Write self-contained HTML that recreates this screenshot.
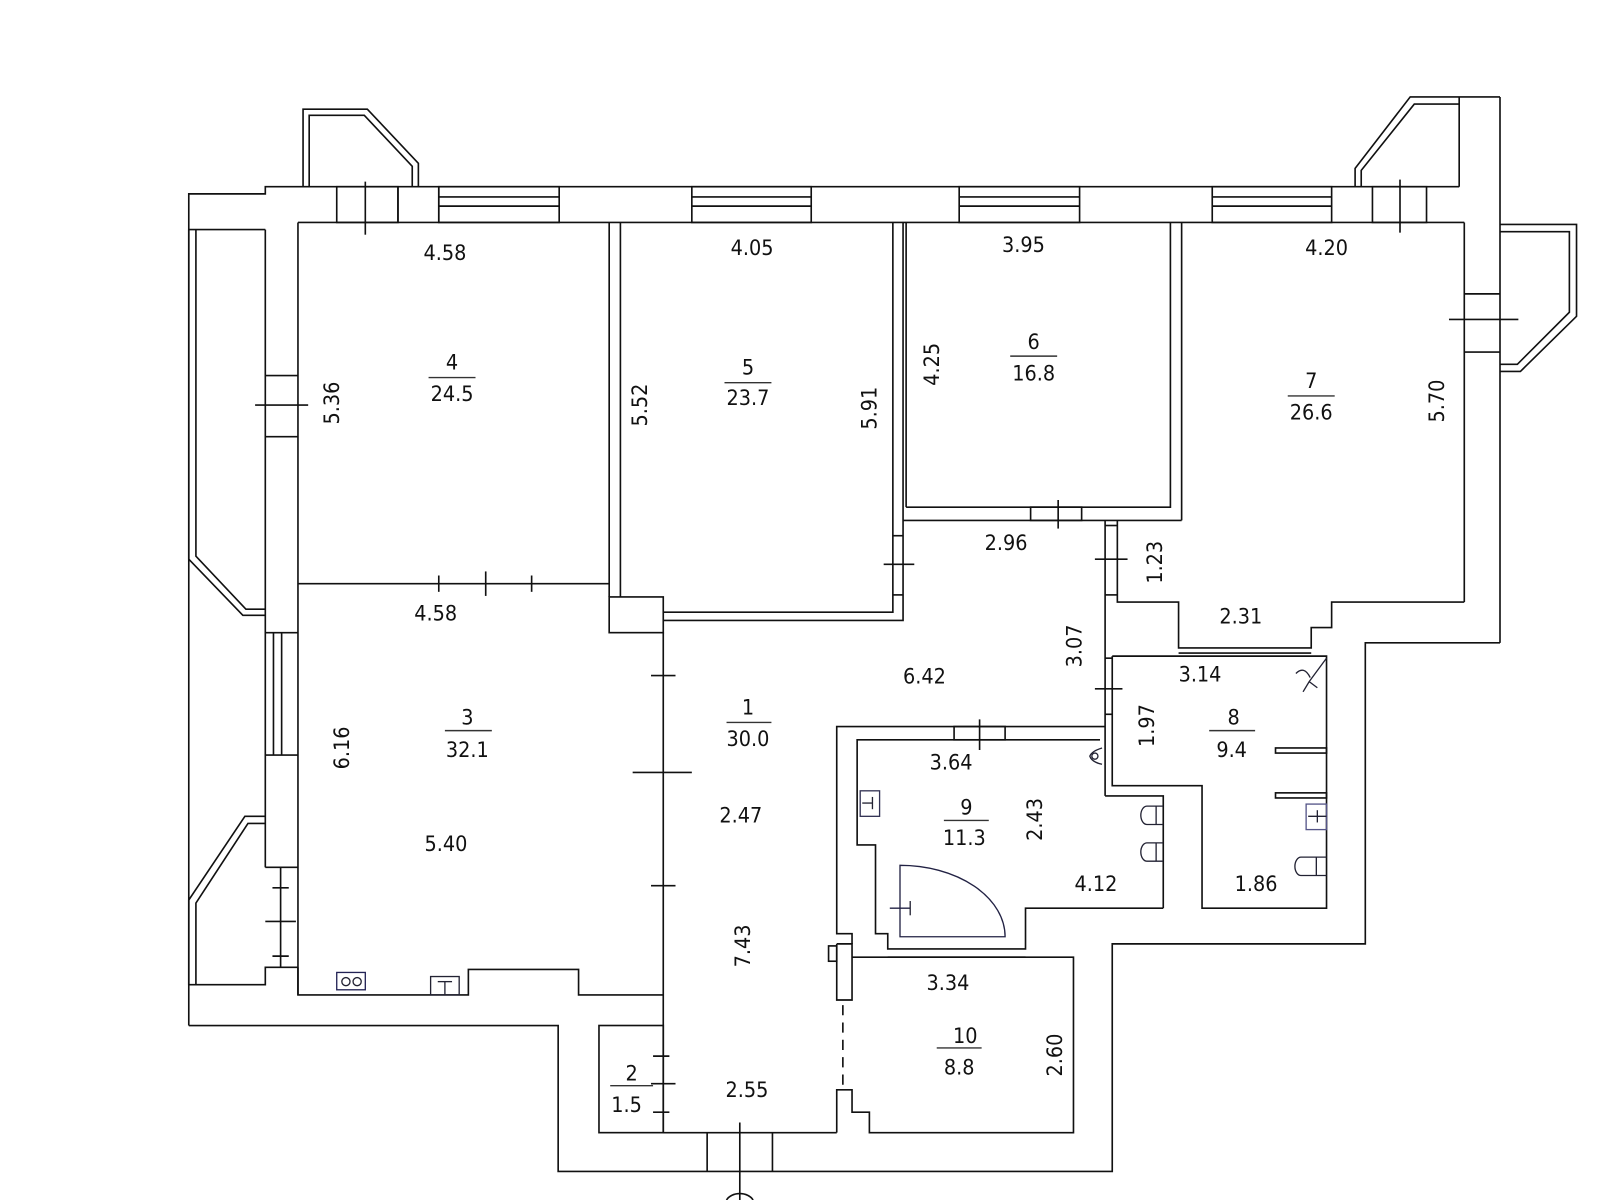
<!DOCTYPE html>
<html><head><meta charset="utf-8"><style>
html,body{margin:0;padding:0;background:#fff;}
svg{display:block}
text{font-family:"DejaVu Sans Condensed","Liberation Sans",sans-serif;font-size:21px;fill:#111;text-anchor:middle}
</style></head><body>
<svg width="1600" height="1200" viewBox="0 0 1568 1176" xmlns="http://www.w3.org/2000/svg">
<g fill="none" stroke="#111" stroke-width="1.6">
<polyline points="185,1005 185,190 260,190 260,183 1430,183"/>
<line x1="292" y1="218" x2="1435" y2="218"/>
<line x1="185" y1="225" x2="260" y2="225"/>
<polyline points="297,183 297,107 360,107 410,160 410,183"/>
<polyline points="303,183 303,113 357,113 404,163 404,183"/>
<rect x="330" y="183" width="60" height="35"/>
<line x1="358" y1="178" x2="358" y2="230"/>
<line x1="390" y1="183" x2="390" y2="218"/><line x1="430" y1="183" x2="430" y2="218"/>
<rect x="430" y="183" width="118" height="35"/><line x1="430" y1="193" x2="548" y2="193"/><line x1="430" y1="202" x2="548" y2="202"/>
<rect x="678" y="183" width="117" height="35"/><line x1="678" y1="193" x2="795" y2="193"/><line x1="678" y1="202" x2="795" y2="202"/>
<rect x="940" y="183" width="118" height="35"/><line x1="940" y1="193" x2="1058" y2="193"/><line x1="940" y1="202" x2="1058" y2="202"/>
<rect x="1188" y="183" width="117" height="35"/><line x1="1188" y1="193" x2="1305" y2="193"/><line x1="1188" y1="202" x2="1305" y2="202"/>
<rect x="1345" y="183" width="53" height="35"/><line x1="1372" y1="176" x2="1372" y2="228"/>
<polyline points="1328,183 1328,165 1382,95 1470,95"/>
<polyline points="1334,183 1334,167 1386,102 1430,102"/>
<line x1="1430" y1="95" x2="1430" y2="183"/>
<line x1="1470" y1="95" x2="1470" y2="630"/>
<line x1="1435" y1="218" x2="1435" y2="590"/>
<polyline points="1470,220 1545,220 1545,310 1490,364 1470,364"/>
<polyline points="1470,227 1538,227 1538,306 1487,357 1470,357"/>
<line x1="1435" y1="288" x2="1470" y2="288"/><line x1="1435" y1="345" x2="1470" y2="345"/>
<line x1="1420" y1="313" x2="1488" y2="313"/>
<polyline points="185,225 185,548 238,603 260,603"/>
<polyline points="192,225 192,545 241,597 260,597"/>
<line x1="260" y1="225" x2="260" y2="850"/>
<line x1="292" y1="218" x2="292" y2="975"/>
<line x1="260" y1="368" x2="292" y2="368"/><line x1="260" y1="428" x2="292" y2="428"/>
<line x1="250" y1="397" x2="302" y2="397"/>
<line x1="260" y1="620" x2="292" y2="620"/><line x1="260" y1="740" x2="292" y2="740"/>
<line x1="268" y1="620" x2="268" y2="740"/><line x1="276" y1="620" x2="276" y2="740"/>
<line x1="260" y1="850" x2="292" y2="850"/>
<line x1="275" y1="850" x2="275" y2="948"/>
<line x1="267" y1="870" x2="283" y2="870"/><line x1="260" y1="903" x2="290" y2="903"/><line x1="267" y1="937" x2="283" y2="937"/>
<polyline points="185,965 185,882 240,800 260,800"/>
<polyline points="192,965 192,885 243,807 260,807"/>
<polyline points="185,965 260,965 260,948 292,948"/>
<polyline points="292,948 292,975 459,975 459,950 567,950 567,975 650,975"/>
<polyline points="185,1005 547,1005 547,1148 1090,1148 1090,925 1338,925 1338,630 1470,630"/>
<line x1="292" y1="572" x2="597" y2="572"/>
<line x1="430" y1="564" x2="430" y2="580"/><line x1="476" y1="560" x2="476" y2="584"/><line x1="521" y1="564" x2="521" y2="580"/>
<line x1="597" y1="218" x2="597" y2="585"/><line x1="608" y1="218" x2="608" y2="585"/>
<rect x="597" y="585" width="53" height="35"/>
<polyline points="650,608 885,608 885,218"/>
<polyline points="650,600 875,600 875,218"/>
<line x1="875" y1="525" x2="885" y2="525"/><line x1="875" y1="583" x2="885" y2="583"/>
<line x1="866" y1="553" x2="896" y2="553"/>
<line x1="650" y1="620" x2="650" y2="1110"/>
<line x1="638" y1="662" x2="662" y2="662"/><line x1="620" y1="757" x2="678" y2="757"/><line x1="638" y1="868" x2="662" y2="868"/>
<line x1="888" y1="218" x2="888" y2="497"/>
<polyline points="888,497 1147,497 1147,218"/>
<line x1="1158" y1="218" x2="1158" y2="510"/>
<line x1="885" y1="510" x2="1158" y2="510"/>
<rect x="1010" y="497" width="50" height="13"/>
<line x1="1037" y1="490" x2="1037" y2="518"/>
<line x1="1083" y1="510" x2="1083" y2="780"/>
<polyline points="1095,510 1095,590 1155,590 1155,635 1285,635 1285,615 1305,615 1305,590 1435,590"/>
<line x1="1083" y1="515" x2="1095" y2="515"/>
<line x1="1073" y1="548" x2="1105" y2="548"/>
<line x1="1083" y1="583" x2="1095" y2="583"/>
<line x1="1155" y1="640" x2="1285" y2="640"/>
<line x1="1083" y1="645" x2="1090" y2="645"/>
<line x1="1073" y1="675" x2="1100" y2="675"/>
<line x1="1083" y1="700" x2="1090" y2="700"/>
<polyline points="1090,643 1300,643 1300,890 1178,890 1178,770 1090,770 1090,643"/>
<polyline points="1083,780 1140,780 1140,890"/>
<rect x="1250" y="733" width="50" height="5"/>
<rect x="1250" y="777" width="50" height="5"/>
<polyline points="1083,712 820,712 820,915 835,915 835,925"/>
<polyline points="1078,725 840,725 840,828 858,828 858,915 870,915 870,930 1005,930 1005,890 1140,890"/>
<rect x="935" y="712" width="50" height="13"/>
<line x1="960" y1="705" x2="960" y2="735"/>
<polyline points="835,938 1052,938 1052,1110 852,1110 852,1090 835,1090 835,1068 820,1068 820,1110"/>
<polyline points="820,925 835,925 835,980 820,980 820,925"/>
<rect x="812" y="927" width="8" height="15"/>
<line x1="826" y1="985" x2="826" y2="1065" stroke-dasharray="10,7"/>
<line x1="870" y1="938" x2="1005" y2="938"/>
<rect x="587" y="1005" width="63" height="105"/>
<line x1="640" y1="1035" x2="656" y2="1035"/><line x1="638" y1="1062" x2="662" y2="1062"/><line x1="640" y1="1090" x2="656" y2="1090"/>
<line x1="650" y1="1110" x2="820" y2="1110"/>
<line x1="693" y1="1110" x2="693" y2="1148"/><line x1="757" y1="1110" x2="757" y2="1148"/>
<line x1="725" y1="1100" x2="725" y2="1176"/>
<path d="M712,1176 A14,10 0 0 1 738,1176"/>
<g stroke="#223" stroke-width="1.3">
<rect x="330" y="953" width="28" height="17" stroke="#225"/>
<circle cx="339" cy="962" r="4"/><circle cx="350" cy="962" r="4"/>
<rect x="422" y="957" width="28" height="18"/><line x1="436" y1="962" x2="436" y2="975"/><line x1="429" y1="962" x2="443" y2="962"/>
<rect x="843" y="775" width="19" height="25" stroke="#335"/><line x1="845" y1="787" x2="855" y2="787"/><line x1="855" y1="781" x2="855" y2="793"/>
<path d="M882,918 L882,848 A103,70 0 0 1 985,918 Z" stroke="#224"/>
<line x1="872" y1="890" x2="892" y2="890" stroke="#224"/><line x1="892" y1="883" x2="892" y2="897"/>
<path d="M1080,733 q-10,3 -12,8 q2,6 12,8"/><circle cx="1073" cy="741" r="3"/>
<path d="M1140,790 h-16 a6,9 0 0 0 0,18 h16"/><line x1="1133" y1="790" x2="1133" y2="808"/>
<path d="M1140,826 h-16 a6,9 0 0 0 0,18 h16"/><line x1="1133" y1="826" x2="1133" y2="844"/>
<path d="M1300,840 h-25 a6,9 0 0 0 0,18 h25"/><line x1="1290" y1="840" x2="1290" y2="858"/>
<rect x="1280" y="788" width="20" height="25" stroke="#558"/><line x1="1282" y1="800" x2="1300" y2="800"/><line x1="1291" y1="794" x2="1291" y2="806"/>
<path d="M1300,645 L1283,668 M1270,660 q8,-8 14,4 M1283,668 l-6,10 M1283,668 l8,6"/>
</g>
</g>
<g fill="none" stroke="#333" stroke-width="1.4">
<line x1="420" y1="370" x2="466" y2="370"/>
<line x1="710" y1="375" x2="756" y2="375"/>
<line x1="990" y1="349" x2="1036" y2="349"/>
<line x1="1262" y1="388" x2="1308" y2="388"/>
<line x1="436" y1="716" x2="482" y2="716"/>
<line x1="712" y1="708" x2="756" y2="708"/>
<line x1="925" y1="804" x2="969" y2="804"/>
<line x1="1185" y1="716" x2="1230" y2="716"/>
<line x1="918" y1="1027" x2="962" y2="1027"/>
<line x1="598" y1="1064" x2="640" y2="1064"/>
</g>
<text x="436" y="255">4.58</text>
<text x="737" y="250">4.05</text>
<text x="1003" y="247">3.95</text>
<text x="1300" y="250">4.20</text>
<text x="443" y="362">4</text><text x="443" y="393">24.5</text>
<text x="733" y="367">5</text><text x="733" y="397">23.7</text>
<text x="1013" y="342">6</text><text x="1013" y="373">16.8</text>
<text x="1285" y="380">7</text><text x="1285" y="411">26.6</text>
<text transform="translate(332,395) rotate(-90)">5.36</text>
<text transform="translate(634,397) rotate(-90)">5.52</text>
<text transform="translate(859,400) rotate(-90)">5.91</text>
<text transform="translate(920,357) rotate(-90)">4.25</text>
<text transform="translate(1415,393) rotate(-90)">5.70</text>
<text x="986" y="539">2.96</text>
<text transform="translate(1139,551) rotate(-90)">1.23</text>
<text x="1216" y="611">2.31</text>
<text x="427" y="608">4.58</text>
<text transform="translate(1060,633) rotate(-90)">3.07</text>
<text x="906" y="670">6.42</text>
<text x="1176" y="668">3.14</text>
<text transform="translate(1131,711) rotate(-90)">1.97</text>
<text x="1209" y="710">8</text><text x="1207" y="742">9.4</text>
<text x="733" y="700">1</text><text x="733" y="731">30.0</text>
<text x="458" y="710">3</text><text x="458" y="742">32.1</text>
<text transform="translate(342,733) rotate(-90)">6.16</text>
<text x="932" y="754">3.64</text>
<text x="947" y="798">9</text><text x="945" y="828">11.3</text>
<text transform="translate(1021,803) rotate(-90)">2.43</text>
<text x="726" y="806">2.47</text>
<text x="437" y="834">5.40</text>
<text x="1074" y="873">4.12</text>
<text x="1231" y="873">1.86</text>
<text transform="translate(735,927) rotate(-90)">7.43</text>
<text x="929" y="970">3.34</text>
<text x="946" y="1022">10</text><text x="940" y="1053">8.8</text>
<text transform="translate(1041,1034) rotate(-90)">2.60</text>
<text x="619" y="1059">2</text><text x="614" y="1090">1.5</text>
<text x="732" y="1075">2.55</text>
</svg>
</body></html>
